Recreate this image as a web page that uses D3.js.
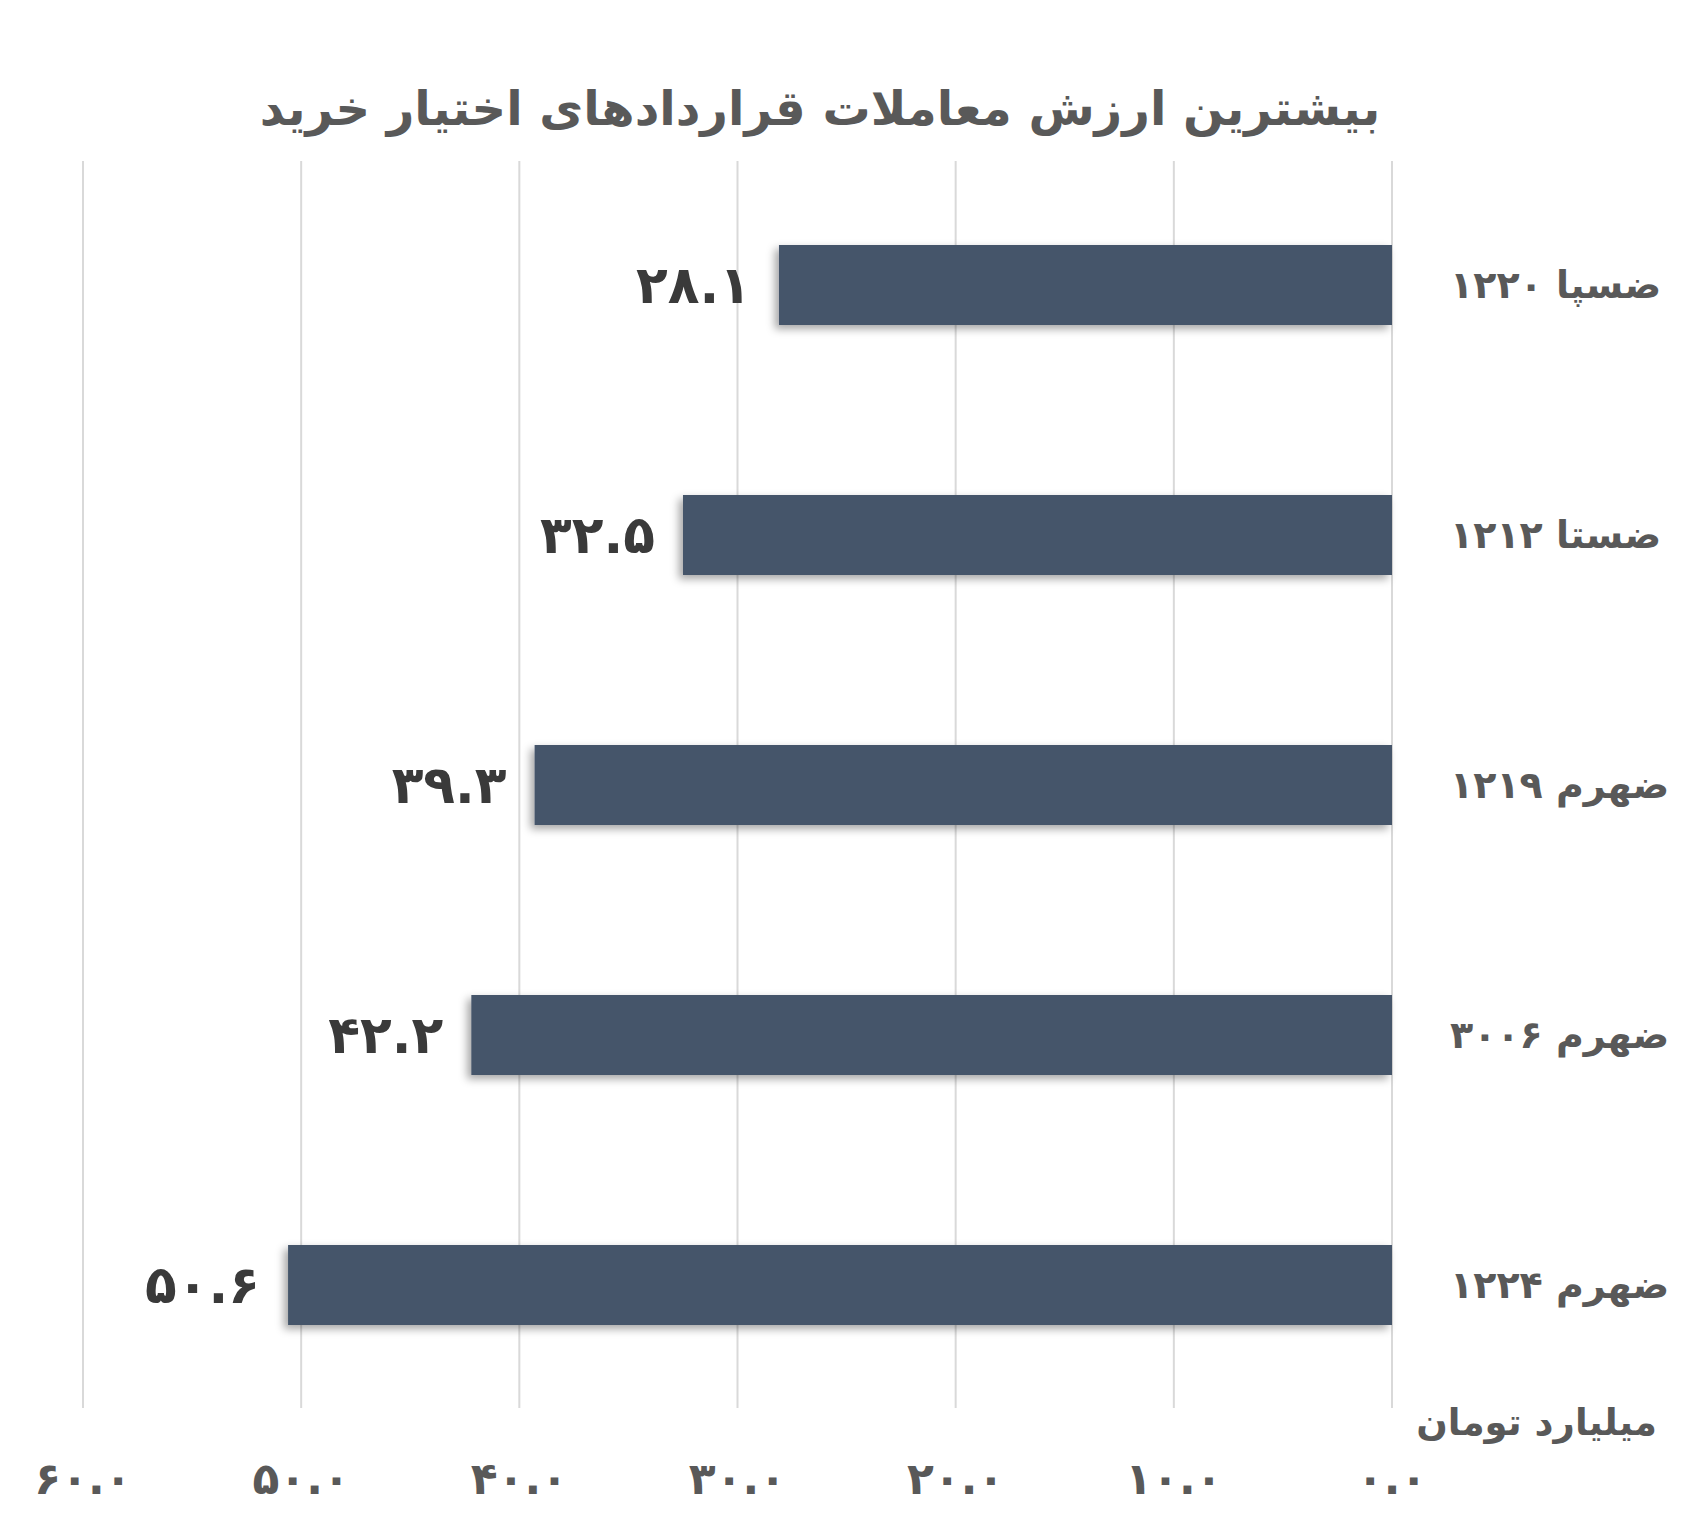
<!DOCTYPE html>
<html>
<head>
<meta charset="utf-8">
<script src="https://cdn.jsdelivr.net/npm/d3@7"></script>
<style>
  body { margin: 0; background: #fff; }
  text { font-family: "DejaVu Sans", sans-serif; }
</style>
</head>
<body>
<div id="chart"></div>
<script>
// chart data
var categories = ["ضسپا ۱۲۲۰", "ضستا ۱۲۱۲", "ضهرم ۱۲۱۹", "ضهرم ۳۰۰۶", "ضهرم ۱۲۲۴"];
var values = [28.1, 32.5, 39.3, 42.2, 50.6];
var tickValues = [0, 10, 20, 30, 40, 50, 60];
var title = "بیشترین ارزش معاملات قراردادهای اختیار خرید";
var unitLabel = "میلیارد تومان";

var width = 1682, height = 1539;

function fa(s) {
  return String(s).replace(/[0-9]/g, function(d) { return "۰۱۲۳۴۵۶۷۸۹"[+d]; });
}

var svg = d3.select("#chart").append("svg")
    .attr("width", width)
    .attr("height", height);

var defs = svg.append("defs");
var f = defs.append("filter").attr("id", "shadow")
    .attr("x", "-10%").attr("y", "-30%").attr("width", "120%").attr("height", "160%");
f.append("feDropShadow")
    .attr("dx", -4).attr("dy", 4)
    .attr("stdDeviation", 4)
    .attr("flood-color", "#000")
    .attr("flood-opacity", 0.35);

// x runs right-to-left: 0 at the right
var x = d3.scaleLinear()
    .domain([0, 60])
    .range([1392, 83]);

var y = d3.scaleBand()
    .domain(categories)
    .range([160, 1410])
    .paddingInner(0.68)
    .paddingOuter(0.34);

// gridlines
svg.append("g")
  .selectAll("line")
  .data(tickValues)
  .enter()
  .append("line")
    .attr("x1", function(d) { return x(d); })
    .attr("x2", function(d) { return x(d); })
    .attr("y1", 161)
    .attr("y2", 1408)
    .style("stroke", "#d9d9d9")
    .style("stroke-width", 2);

// tick labels
svg.append("g")
  .selectAll("text")
  .data(tickValues)
  .enter()
  .append("text")
    .attr("x", function(d) { return x(d); })
    .attr("y", 1494)
    .attr("text-anchor", "middle")
    .style("font-size", "44px")
    .style("font-weight", "bold")
    .style("fill", "#595959")
    .text(function(d) { return fa(d3.format(".1f")(d)); });

// bars
svg.append("g")
  .selectAll("rect")
  .data(values)
  .enter()
  .append("rect")
    .attr("x", function(d) { return x(d); })
    .attr("y", function(d, i) { return y(categories[i]); })
    .attr("width", function(d) { return x(0) - x(d); })
    .attr("height", y.bandwidth())
    .attr("filter", "url(#shadow)")
    .style("fill", "#44546a");

// value labels
svg.append("g")
  .selectAll("text")
  .data(values)
  .enter()
  .append("text")
    .attr("x", function(d) { return x(d) - 28; })
    .attr("y", function(d, i) { return y(categories[i]) + y.bandwidth() / 2; })
    .attr("dy", "0.35em")
    .attr("text-anchor", "end")
    .style("font-size", "52px")
    .style("font-weight", "bold")
    .style("fill", "#3a3a3a")
    .text(function(d) { return fa(d3.format(".1f")(d)); });

// category labels
svg.append("g")
  .selectAll("text")
  .data(categories)
  .enter()
  .append("text")
    .attr("x", 1450)
    .attr("y", function(d) { return y(d) + y.bandwidth() / 2; })
    .attr("dy", "0.35em")
    .attr("text-anchor", "start")
    .style("font-size", "38px")
    .style("font-weight", "bold")
    .style("fill", "#595959")
    .text(function(d) { return d; });

// unit label
svg.append("text")
    .attr("x", 1657)
    .attr("y", 1435)
    .attr("text-anchor", "end")
    .style("font-size", "37px")
    .style("font-weight", "bold")
    .style("fill", "#595959")
    .text(unitLabel);

// title
svg.append("text")
    .attr("x", 820)
    .attr("y", 125)
    .attr("text-anchor", "middle")
    .style("font-size", "48px")
    .style("font-weight", "bold")
    .style("fill", "#595959")
    .text(title);
</script>
</body>
</html>
